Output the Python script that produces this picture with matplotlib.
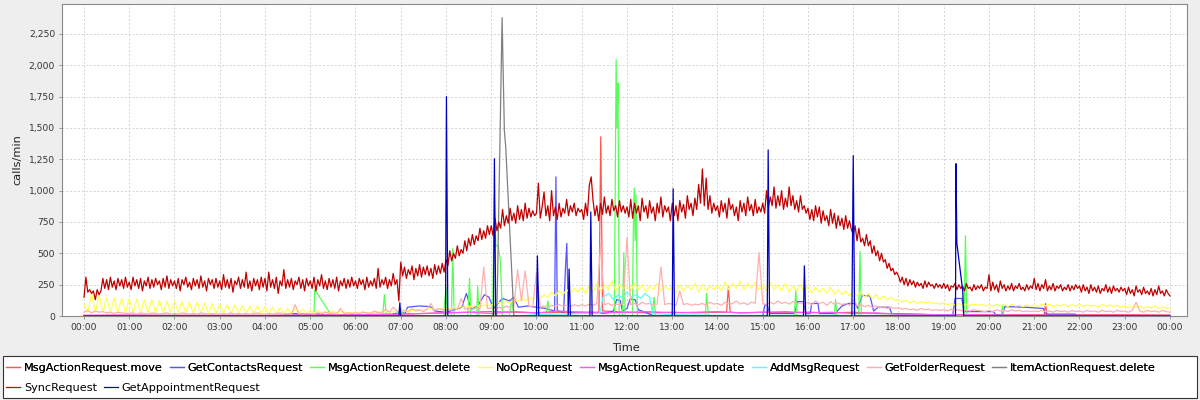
import matplotlib
matplotlib.use("Agg")
import matplotlib.pyplot as plt
import numpy as np
from matplotlib.patches import Rectangle
from matplotlib.ticker import FuncFormatter, MultipleLocator

# x ticks, one per hour
hour_labels = [f"{h % 24:02d}:00" for h in range(25)]

# SyncRequest, one value every 2.5 minutes (one row per hour) + 24:00
sync_vals = [
    150, 310, 190, 210, 180, 200, 130, 210, 170, 200, 300, 220, 290, 210, 310, 230, 280, 210, 300, 240, 290, 220, 310, 230,
    270, 210, 310, 240, 290, 220, 300, 200, 280, 240, 310, 220, 290, 230, 300, 250, 280, 210, 300, 230, 320, 220, 290, 240,
    280, 220, 300, 200, 290, 250, 310, 230, 270, 210, 300, 240, 290, 220, 320, 230, 280, 200, 300, 250, 290, 220, 300, 230,
    280, 210, 330, 230, 290, 220, 300, 190, 280, 250, 310, 220, 290, 230, 350, 220, 280, 200, 300, 240, 290, 210, 310, 230,
    300, 200, 350, 230, 290, 220, 310, 180, 280, 240, 370, 220, 290, 230, 300, 210, 280, 250, 310, 220, 290, 200, 300, 240,
    280, 220, 310, 200, 290, 240, 330, 220, 280, 210, 300, 230, 290, 220, 310, 200, 280, 240, 300, 220, 290, 230, 310, 240,
    280, 220, 300, 250, 290, 210, 310, 230, 280, 240, 300, 220, 380, 230, 290, 250, 310, 220, 290, 240, 340, 250, 290, 120,
    430, 320, 390, 300, 370, 330, 400, 290, 380, 320, 410, 310, 390, 330, 400, 320, 380, 300, 410, 330, 400, 340, 420, 350,
    450, 400, 520, 440, 500, 460, 560, 480, 530, 500, 600, 520, 620, 560, 650, 570, 640, 600, 700, 610, 680, 620, 720, 650,
    720, 640, 780, 680, 750, 700, 850, 720, 800, 740, 860, 760, 820, 740, 880, 770, 850, 760, 900, 780, 860, 790, 840, 800,
    820, 1060, 780, 870, 990, 800, 880, 760, 1000, 800, 870, 770, 900, 790, 860, 820, 930, 800, 880, 830, 900, 800, 860, 830,
    850, 770, 900, 800, 1040, 1110, 920, 800, 880, 760, 900, 810, 950, 820, 880, 800, 930, 840, 880, 790, 920, 830, 880, 820,
    870, 790, 930, 780, 900, 820, 880, 760, 940, 830, 880, 780, 920, 820, 870, 760, 900, 820, 950, 790, 880, 830, 870, 760,
    900, 800, 880, 760, 920, 830, 890, 780, 960, 850, 900, 800, 940, 850, 1050, 900, 1173, 880, 1100, 850, 960, 820, 900, 840,
    880, 790, 920, 830, 900, 780, 940, 850, 890, 800, 870, 760, 920, 830, 900, 800, 950, 840, 890, 800, 930, 820, 870, 830,
    900, 820, 1000, 860, 950, 880, 1030, 860, 960, 880, 1000, 850, 940, 870, 1030, 880, 960, 850, 920, 830, 960, 850, 880, 820,
    860, 770, 850, 760, 880, 790, 870, 740, 840, 760, 800, 720, 850, 740, 820, 700, 800, 720, 780, 690, 800, 700, 760, 690,
    650, 720, 600, 700, 590, 620, 560, 650, 560, 600, 500, 560, 480, 520, 440, 500, 430, 450, 380, 420, 360, 380, 330, 350,
    320, 270, 310, 250, 300, 240, 290, 250, 280, 230, 270, 240, 260, 220, 280, 230, 270, 240, 250, 220, 260, 230, 250, 220,
    260, 220, 250, 200, 240, 230, 260, 210, 250, 220, 240, 200, 260, 220, 230, 200, 250, 210, 240, 220, 250, 200, 230, 220,
    330, 200, 270, 210, 250, 190, 280, 220, 250, 200, 240, 210, 260, 200, 240, 220, 260, 210, 230, 200, 250, 210, 240, 220,
    300, 210, 260, 200, 250, 220, 290, 200, 240, 210, 260, 200, 240, 220, 250, 200, 230, 210, 250, 200, 240, 210, 250, 220,
    240, 190, 250, 200, 230, 180, 250, 200, 230, 190, 240, 180, 220, 200, 250, 190, 230, 180, 240, 200, 220, 190, 230, 200,
    220, 170, 230, 180, 210, 160, 240, 190, 210, 170, 230, 180, 200, 170, 220, 160, 210, 170, 240, 180, 200, 160, 210, 180,
    160,
]

# NoOpRequest, every 5 minutes
noop_5min = [
    90, 30, 180, 30, 165, 30, 150, 25, 145, 25, 140, 25,
    140, 25, 135, 25, 130, 25, 130, 25, 125, 25, 120, 25,
    120, 25, 115, 25, 110, 20, 110, 20, 105, 20, 100, 20,
    95, 20, 90, 20, 90, 20, 85, 20, 80, 20, 80, 20,
    75, 20, 70, 20, 65, 20, 60, 20, 55, 20, 55, 20,
    50, 20, 45, 20, 40, 20, 40, 25, 35, 25, 30, 25,
    30, 25, 35, 20, 30, 25, 35, 30, 40, 30, 35, 40,
    40, 35, 50, 40, 55, 45, 50, 55, 60, 50, 55, 60,
    60, 55, 70, 60, 75, 65, 80, 70, 85, 75, 90, 80,
    90, 85, 110, 95, 120, 100, 130, 115, 140, 120, 150, 130,
    150, 140, 170, 150, 190, 160, 200, 170, 210, 180, 220, 190,
    230, 180, 240, 190, 260, 200, 250, 210, 280, 200, 250, 220,
    240, 200, 260, 210, 250, 190, 240, 210, 260, 200, 240, 210,
    230, 190, 250, 200, 240, 210, 260, 190, 250, 200, 240, 210,
    250, 200, 270, 210, 260, 220, 280, 210, 260, 220, 270, 210,
    250, 200, 270, 210, 250, 200, 260, 190, 240, 200, 250, 190,
    240, 180, 230, 190, 220, 180, 230, 170, 210, 170, 200, 160,
    200, 160, 190, 150, 180, 140, 170, 130, 160, 130, 150, 125,
    130, 110, 125, 105, 120, 100, 115, 105, 110, 100, 105, 95,
    105, 90, 100, 90, 100, 85, 95, 85, 95, 85, 95, 80,
    90, 75, 95, 80, 90, 75, 95, 80, 85, 75, 90, 75,
    90, 75, 95, 80, 95, 75, 90, 80, 95, 75, 90, 80,
    95, 75, 90, 80, 85, 70, 95, 75, 90, 75, 85, 70,
    80, 65, 75, 70, 80, 60, 75, 65, 80, 60, 70, 65,
    60,
]

# GetFolderRequest, every 5 minutes
folder_5min = [
    30, 45, 25, 40, 30, 35, 25, 30, 20, 30, 25, 20,
    20, 25, 15, 25, 20, 15, 25, 20, 15, 20, 25, 15,
    20, 15, 25, 20, 15, 20, 15, 25, 20, 15, 20, 15,
    15, 20, 15, 25, 15, 20, 15, 20, 15, 20, 25, 15,
    15, 20, 15, 20, 25, 15, 20, 15, 90, 20, 15, 20,
    20, 15, 25, 20, 30, 20, 25, 15, 60, 20, 25, 20,
    25, 20, 30, 25, 20, 40, 25, 30, 55, 30, 70, 40,
    35, 45, 30, 60, 40, 50, 35, 55, 100, 45, 60, 50,
    55, 45, 60, 50, 140, 55, 60, 50, 65, 55, 390, 60,
    65, 55, 70, 60, 80, 65, 75, 370, 120, 360, 80, 70,
    350, 70, 80, 65, 85, 75, 90, 80, 85, 75, 90, 80,
    90, 80, 95, 85, 100, 580, 90, 100, 85, 95, 90, 100,
    630, 90, 100, 85, 110, 95, 100, 90, 95, 390, 90, 100,
    95, 85, 200, 90, 100, 85, 95, 90, 100, 85, 110, 95,
    100, 85, 110, 95, 100, 120, 95, 105, 90, 110, 100, 508,
    100, 90, 110, 95, 120, 100, 110, 95, 115, 100, 105, 90,
    110, 90, 120, 100, 110, 85, 115, 95, 105, 90, 100, 85,
    130, 80, 90, 75, 85, 70, 80, 65, 75, 60, 70, 60,
    65, 55, 60, 50, 55, 45, 60, 50, 55, 45, 50, 45,
    50, 40, 55, 45, 50, 40, 45, 40, 50, 45, 40, 35,
    45, 35, 50, 40, 45, 35, 50, 40, 45, 35, 40, 35,
    40, 35, 45, 35, 40, 30, 45, 35, 40, 30, 45, 35,
    40, 30, 45, 35, 40, 30, 45, 35, 40, 30, 45, 35,
    40, 30, 45, 110, 40, 30, 45, 35, 40, 30, 45, 35,
    30,
]

# sparse series: time in hours, value in calls/min
move_t = [0, 1, 2, 3, 4, 5, 6, 7, 7.5, 8, 8.5, 9, 9.5, 10, 10.5, 11, 11.38,
          11.42, 11.46, 11.75, 12, 12.5, 13, 13.5, 14, 14.2, 14.24, 14.28,
          14.5, 15, 15.5, 16, 16.5, 17, 17.5, 18, 19, 20, 21, 21.22, 21.25,
          21.28, 22, 22.5, 23, 24]
move_v = [5, 5, 5, 5, 5, 8, 10, 15, 20, 25, 30, 35, 30, 25, 30, 30, 30,
          1430, 40, 35, 30, 25, 30, 25, 30, 30, 230, 30,
          25, 30, 25, 30, 25, 30, 20, 15, 10, 10, 10, 10, 100,
          10, 10, 10, 10, 8]

contacts_t = [0, 4.4, 4.45, 5.28, 5.3, 6.8, 6.85, 7.1, 7.15, 7.4, 7.65, 7.75,
              8.0, 8.2, 8.35, 8.45, 8.55, 8.7, 8.85, 8.95, 9.05, 9.25, 9.4,
              9.5, 9.6, 9.8, 10.0, 10.2, 10.4, 10.43, 10.46, 10.6, 10.64,
              10.67, 10.7, 10.9, 11.2, 11.5, 11.7, 11.77, 11.85, 11.9, 12.0,
              12.07, 12.18, 12.25, 12.4, 12.6, 15.0, 15.05, 15.1, 15.15, 15.7,
              15.77, 15.9, 15.95, 16.05, 16.08, 16.22, 16.25, 16.6, 16.75,
              16.9, 17.05, 17.1, 17.2, 17.37, 17.45, 17.55, 17.8, 17.85, 18.2,
              18.8, 19.2, 19.25, 19.4, 19.45, 20.1, 20.15, 20.3, 20.35, 20.8,
              21.2, 21.25, 21.9, 21.95, 24]
contacts_v = [0, 0, 18, 18, 0, 0, 20, 25, 70, 80, 75, 40,
              30, 50, 70, 180, 60, 80, 170, 150, 60, 140, 120,
              150, 70, 80, 70, 60, 40, 1110, 40, 30, 380,
              580, 30, 20, 25, 20, 40, 130, 125, 40, 60,
              135, 130, 50, 30, 0, 0, 90, 90, 20, 20,
              115, 115, 20, 20, 100, 100, 20, 20, 80,
              100, 100, 60, 165, 160, 40, 70, 70, 20, 15,
              10, 10, 140, 140, 35, 35, 10, 10, 75, 70,
              60, 15, 15, 0, 0]

delete_t = [0, 1.98, 2.0, 2.1, 5.08, 5.1, 5.47, 5.5, 6.6, 6.64, 6.68, 6.9, 7.0,
            7.05, 7.95, 8.0, 8.03, 8.12, 8.15, 8.18, 8.48, 8.52, 8.55, 8.68,
            8.7, 8.73, 9.03, 9.07, 9.1, 9.15, 9.2, 9.25, 9.4, 9.45, 9.5, 10.2,
            10.25, 10.3, 11.72, 11.76, 11.78, 11.8, 11.83, 11.9, 11.93, 11.96,
            12.12, 12.14, 12.16, 12.18, 12.2, 12.23, 12.55, 12.6, 12.63,
            13.73, 13.76, 13.8, 15.7, 15.73, 15.76, 16.58, 16.61, 16.64,
            17.12, 17.15, 17.18, 19.45, 19.48, 19.51, 20.27, 20.3, 20.33, 24]
delete_v = [0, 0, 15, 0, 0, 210, 5, 0, 0, 170, 0, 0, 60,
            0, 0, 230, 0, 0, 540, 0, 0, 300, 0, 0,
            240, 0, 0, 950, 560, 560, 450, 0, 0, 130, 0, 0,
            120, 0, 0, 2045, 1500, 1860, 0, 0, 505, 0,
            0, 700, 1020, 600, 965, 0, 0, 150, 0,
            0, 180, 0, 0, 210, 0, 0, 130, 0,
            0, 515, 0, 0, 640, 0, 0, 88, 0, 0]

update_t = [0, 1, 2, 3, 4, 5, 6, 7, 7.5, 8, 8.5, 9, 9.5, 10, 10.5, 11, 11.5,
            12, 12.5, 13, 13.5, 14, 14.5, 15, 15.5, 16, 16.5, 17, 17.5, 18,
            19, 20, 21, 22, 23, 24]
update_v = [5, 8, 5, 6, 5, 8, 10, 15, 20, 25, 30, 20, 35, 25, 40, 30, 25,
            30, 35, 25, 30, 35, 25, 30, 35, 25, 30, 20, 25, 15,
            10, 8, 6, 5, 5, 5]

addmsg_t = [0, 9.5, 10, 10.5, 11, 11.4, 11.47, 11.6, 11.7, 11.8, 11.9, 12.0,
            12.1, 12.2, 12.3, 12.4, 12.5, 12.57, 13, 14, 15, 16, 17, 24]
addmsg_v = [0, 0, 10, 15, 20, 20, 150, 180, 130, 170, 140, 190,
            150, 170, 140, 180, 150, 20, 10, 5, 5, 5, 5, 0]

itemdel_t = [0, 9.12, 9.14, 9.24, 9.29, 9.32, 9.5, 24]
itemdel_v = [0, 0, 300, 2380, 1480, 1350, 0, 0]

appt_t = [0, 6.96, 6.98, 7.0, 7.99, 8.01, 8.04, 9.05, 9.07, 9.1, 10.0, 10.02,
          10.05, 10.7, 10.72, 10.75, 11.18, 11.2, 11.23, 13.0, 13.02, 13.05,
          15.1, 15.12, 15.15, 15.9, 15.92, 15.95, 16.97, 17.0, 17.03, 19.26,
          19.27, 19.29, 19.42, 19.44, 24]
appt_v = [0, 0, 106, 0, 0, 1750, 0, 0, 1255, 0, 0, 480,
          0, 0, 375, 0, 0, 830, 0, 0, 1015, 0,
          0, 1325, 0, 0, 400, 0, 0, 1280, 0, 0,
          1215, 580, 200, 0, 0]


def main():
    t_sync = np.arange(len(sync_vals)) / 24.0
    t5 = np.arange(len(noop_5min)) / 12.0

    series = [
        ("MsgActionRequest.move", move_t, move_v, "#FF5555"),
        ("GetContactsRequest", contacts_t, contacts_v, "#5555FF"),
        ("MsgActionRequest.delete", delete_t, delete_v, "#55FF55"),
        ("NoOpRequest", t5, noop_5min, "#FFFF55"),
        ("MsgActionRequest.update", update_t, update_v, "#FF55FF"),
        ("AddMsgRequest", addmsg_t, addmsg_v, "#55FFFF"),
        ("GetFolderRequest", t5, folder_5min, "#FFAFAF"),
        ("ItemActionRequest.delete", itemdel_t, itemdel_v, "#808080"),
        ("SyncRequest", t_sync, sync_vals, "#C00000"),
        ("GetAppointmentRequest", appt_t, appt_v, "#0000C0"),
    ]

    fig = plt.figure(figsize=(12, 4), dpi=100, facecolor="#EEEEEE")
    ax = fig.add_axes([62 / 1200, 84 / 400, 1125 / 1200, 312 / 400])
    ax.set_facecolor("white")

    handles = []
    for name, xs, ys, color in series:
        (line,) = ax.plot(xs, ys, color=color, lw=0.9, label=name)
        handles.append(line)

    ax.set_xlim(-0.486, 24.376)
    ax.set_ylim(0, 2489)
    ax.set_xticks(range(25))
    ax.set_xticklabels(hour_labels)
    ax.yaxis.set_major_locator(MultipleLocator(250))
    ax.yaxis.set_major_formatter(FuncFormatter(lambda v, p: f"{int(v):,}"))

    ax.grid(True, color="#D4D4D4", linestyle=(0, (2, 2)), lw=0.7)
    ax.set_axisbelow(True)
    for s in ax.spines.values():
        s.set_color("#8A8A8A")
        s.set_linewidth(0.8)
    ax.tick_params(axis="both", length=2, width=0.6, color="#8A8A8A",
                   labelsize=6.6, pad=3, labelcolor="#333333")

    ax.set_ylabel("calls/min", fontsize=8.2, color="#222222")
    ax.yaxis.set_label_coords(-0.035, 0.5)
    ax.set_xlabel("Time", fontsize=8.2, color="#222222")
    ax.xaxis.set_label_coords(0.501, -0.086)

    # legend box: two rows, left aligned
    fig.patches.append(Rectangle((3 / 1200, 2 / 400), 1194 / 1200, 42 / 400,
                                 transform=fig.transFigure, facecolor="white",
                                 edgecolor="#333333", lw=0.8, zorder=0))
    leg_kw = dict(loc="center left", frameon=False, fontsize=8.1,
                  handlelength=1.25, handletextpad=0.35, columnspacing=0.6,
                  borderpad=0, borderaxespad=0)
    leg1 = fig.legend(handles=handles[:8], ncol=8,
                      bbox_to_anchor=(6 / 1200, 32 / 400), **leg_kw)
    fig.add_artist(leg1)
    fig.legend(handles=handles[8:], ncol=2,
               bbox_to_anchor=(6 / 1200, 12 / 400), **leg_kw)

    fig.savefig("out.png", dpi=100, facecolor=fig.get_facecolor())


if __name__ == "__main__":
    main()
